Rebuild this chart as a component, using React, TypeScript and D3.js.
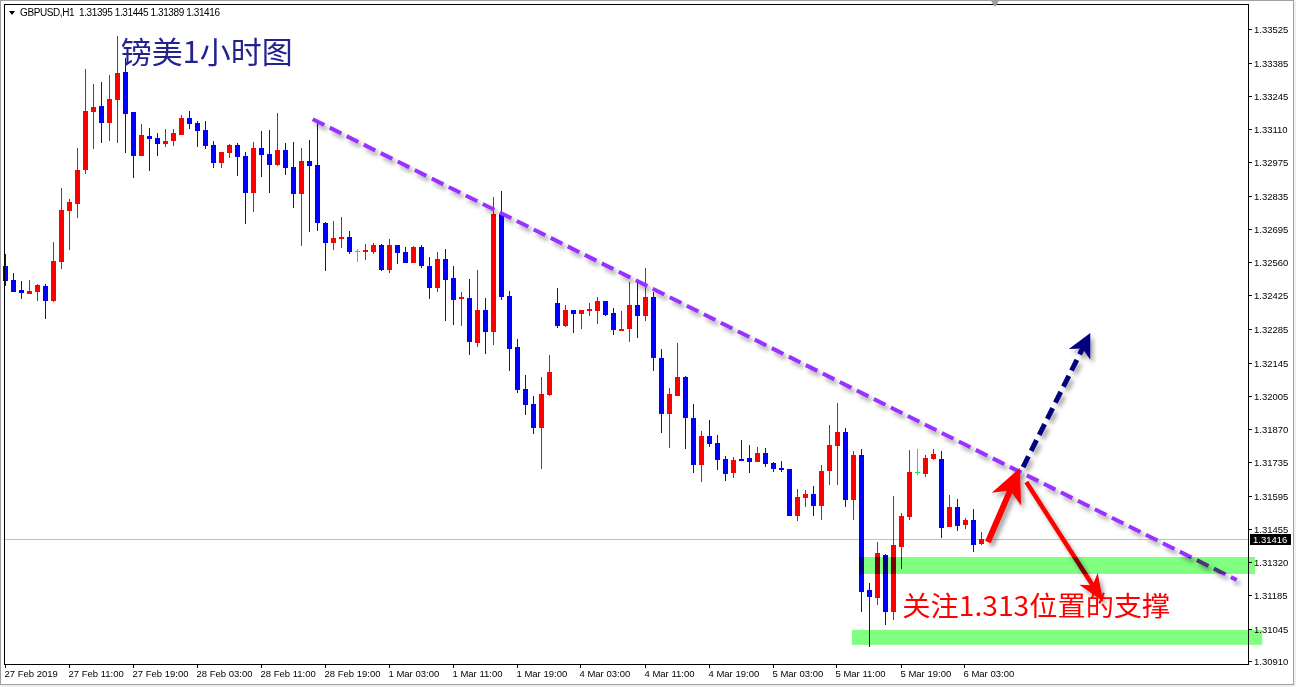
import * as d3 from 'd3';

// GBPUSD H1, 27 Feb 03:00 .. 6 Mar 05:00
const opens = [
  1.32544, 1.32487, 1.32445, 1.32429, 1.32437, 1.32462, 1.324, 1.32561, 1.32772, 1.32801,
  1.32941, 1.33181, 1.33206, 1.33136, 1.33231, 1.33346, 1.33181, 1.32999, 1.33082, 1.33074,
  1.33049, 1.33061, 1.33086, 1.33156, 1.33136, 1.33107, 1.33045, 1.3297, 1.33012, 1.33045,
  1.32999, 1.32846, 1.33032, 1.33007, 1.32962, 1.33024, 1.32954, 1.32842, 1.32978, 1.32962,
  1.32722, 1.32639, 1.32656, 1.32664, 1.32606, 1.32602, 1.32602, 1.32631, 1.32528, 1.32631,
  1.32602, 1.32557, 1.32623, 1.32544, 1.32453, 1.32573, 1.32495, 1.32408, 1.32412, 1.32226,
  1.32363, 1.32272, 1.32759, 1.3242, 1.3221, 1.32036, 1.31974, 1.31875, 1.32011, 1.32391,
  1.32296, 1.32363, 1.32346, 1.32359, 1.32358, 1.324, 1.3235, 1.32276, 1.32284, 1.32383,
  1.32338, 1.32416, 1.32164, 1.31933, 1.32007, 1.32086, 1.31916, 1.31722, 1.31842, 1.31813,
  1.31747, 1.31689, 1.31747, 1.31751, 1.31734, 1.31771, 1.3173, 1.31709, 1.31705, 1.31511,
  1.31585, 1.31602, 1.31552, 1.31697, 1.318, 1.31858, 1.31577, 1.31763, 1.31205, 1.31172,
  1.3135, 1.31114, 1.31383, 1.31507, 1.31693, 1.31685, 1.31747, 1.31747, 1.31465, 1.31548,
  1.31474, 1.31494, 1.31395,
];
const highs = [
  1.32594, 1.32515, 1.32482, 1.32487, 1.3247, 1.3247, 1.32644, 1.32867, 1.32821, 1.33032,
  1.33359, 1.33297, 1.33305, 1.33334, 1.33495, 1.33404, 1.33181, 1.33131, 1.33115, 1.33094,
  1.33111, 1.33111, 1.33169, 1.33185, 1.33144, 1.33144, 1.33061, 1.33016, 1.33049, 1.33053,
  1.33016, 1.33057, 1.33102, 1.33107, 1.33177, 1.33053, 1.33057, 1.33032, 1.33065, 1.33148,
  1.32726, 1.3273, 1.32747, 1.32689, 1.32615, 1.32635, 1.32639, 1.32635, 1.32656, 1.32631,
  1.32623, 1.32627, 1.32631, 1.32582, 1.32602, 1.32615, 1.32544, 1.32437, 1.32491, 1.32528,
  1.32412, 1.3283, 1.32854, 1.32441, 1.32243, 1.32094, 1.32007, 1.32086, 1.32176, 1.32453,
  1.32383, 1.32363, 1.32363, 1.32391, 1.32416, 1.324, 1.32371, 1.32358, 1.32478, 1.32478,
  1.32536, 1.32437, 1.32201, 1.3204, 1.32226, 1.3209, 1.31974, 1.31862, 1.31908, 1.31846,
  1.31759, 1.31755, 1.31825, 1.31804, 1.31796, 1.31792, 1.31734, 1.31738, 1.31705, 1.31623,
  1.31618, 1.31635, 1.31722, 1.31887, 1.31978, 1.31875, 1.3178, 1.31788, 1.31234, 1.31403,
  1.31354, 1.31594, 1.31523, 1.31784, 1.31788, 1.31763, 1.31788, 1.3178, 1.31598, 1.31581,
  1.31503, 1.3154, 1.31445,
];
const lows = [
  1.32462, 1.32437, 1.32408, 1.32429, 1.324, 1.32325, 1.32396, 1.32532, 1.32611, 1.32743,
  1.32925, 1.33028, 1.33053, 1.33061, 1.33053, 1.33012, 1.32908, 1.32999, 1.32937, 1.32999,
  1.33036, 1.3304, 1.33086, 1.33111, 1.33036, 1.33028, 1.3295, 1.3295, 1.32991, 1.32916,
  1.32718, 1.32768, 1.32912, 1.32846, 1.32958, 1.32921, 1.32784, 1.32627, 1.32685, 1.32689,
  1.32524, 1.32611, 1.32619, 1.32594, 1.32561, 1.32569, 1.32594, 1.32524, 1.32515, 1.32553,
  1.32557, 1.32557, 1.32536, 1.32408, 1.32437, 1.32317, 1.323, 1.32296, 1.32176, 1.3221,
  1.32181, 1.32218, 1.32404, 1.3211, 1.32019, 1.31928, 1.3185, 1.31705, 1.32007, 1.32288,
  1.32292, 1.32267, 1.32284, 1.32338, 1.32305, 1.32338, 1.32259, 1.32276, 1.3223, 1.32247,
  1.32317, 1.3211, 1.31854, 1.31792, 1.32007, 1.31788, 1.31689, 1.31651, 1.31796, 1.31701,
  1.31656, 1.31668, 1.31738, 1.31689, 1.31734, 1.31713, 1.31693, 1.31693, 1.31511, 1.3149,
  1.31548, 1.31511, 1.31494, 1.31639, 1.31639, 1.31548, 1.31494, 1.31114, 1.30969, 1.31143,
  1.3106, 1.31081, 1.31292, 1.31494, 1.3168, 1.31672, 1.31742, 1.3142, 1.31465, 1.31449,
  1.31457, 1.31362, 1.31389,
];
const closes = [
  1.32482, 1.32437, 1.32433, 1.32441, 1.32466, 1.324, 1.32565, 1.32776, 1.32809, 1.32941,
  1.33185, 1.33202, 1.33136, 1.33235, 1.33342, 1.33173, 1.32999, 1.33086, 1.33069, 1.33049,
  1.33061, 1.33094, 1.33156, 1.33131, 1.33102, 1.3304, 1.3297, 1.33016, 1.33045, 1.32995,
  1.32846, 1.33032, 1.33003, 1.32962, 1.33024, 1.3295, 1.32842, 1.32978, 1.32958, 1.32722,
  1.32639, 1.3266, 1.32664, 1.32602, 1.32606, 1.32611, 1.32631, 1.32528, 1.32631, 1.32598,
  1.32557, 1.32623, 1.32544, 1.32453, 1.32573, 1.32487, 1.32404, 1.32414, 1.3223, 1.32363,
  1.32272, 1.32759, 1.32416, 1.32201, 1.32032, 1.3197, 1.31875, 1.32015, 1.32106, 1.32296,
  1.32363, 1.32346, 1.32363, 1.32365, 1.324, 1.32342, 1.3228, 1.32284, 1.32383, 1.32338,
  1.32416, 1.32164, 1.31933, 1.32015, 1.32086, 1.31916, 1.31722, 1.31842, 1.31809, 1.31742,
  1.31685, 1.31742, 1.31738, 1.31734, 1.31771, 1.31726, 1.31705, 1.31701, 1.31511, 1.31589,
  1.31602, 1.31552, 1.31697, 1.31804, 1.31858, 1.31577, 1.31763, 1.31197, 1.31176, 1.31358,
  1.31114, 1.31391, 1.31511, 1.31693, 1.31693, 1.31751, 1.31767, 1.31461, 1.31548, 1.3147,
  1.31494, 1.31391, 1.31416,
];

const priceTicks = [
  '1.33525', '1.33385', '1.33245', '1.33110', '1.32975', '1.32835', '1.32695', '1.32560',
  '1.32425', '1.32285', '1.32145', '1.32005', '1.31870', '1.31735', '1.31595', '1.31455',
  '1.31320', '1.31185', '1.31045', '1.30910',
];
const timeTicks = [
  '27 Feb 2019', '27 Feb 11:00', '27 Feb 19:00', '28 Feb 03:00', '28 Feb 11:00',
  '28 Feb 19:00', '1 Mar 03:00', '1 Mar 11:00', '1 Mar 19:00', '4 Mar 03:00',
  '4 Mar 11:00', '4 Mar 19:00', '5 Mar 03:00', '5 Mar 11:00', '5 Mar 19:00', '6 Mar 03:00',
];
const header = 'GBPUSD,H1  1.31395 1.31445 1.31389 1.31416';
const lastPrice = 1.31416;

// annotations in (bar index, price)
const trendLine = [[38.4, 1.33151], [153.9, 1.31246]];
const breakArrow = [[127.2, 1.31713], [135.6, 1.32267]];
const upArrow = [[122.8, 1.31403], [126.8, 1.31709]];
const downArrow = [[127.6, 1.31651], [137.2, 1.31157]];
const zones = [
  [106.7, 156.2, 1.31341, 1.31271],
  [105.8, 157.1, 1.3104, 1.30978],
];
const title = { text: '镑美1小时图', at: [14.4, 1.33384] };
const note = { text: '关注1.313位置的支撑', at: [112.1, 1.31098] };

const W = 1296;
const H = 687;
const plot = { left: 4, top: 4, right: 1248, bottom: 664 };
const axisFont = "'Liberation Sans', Arial, sans-serif";

function arrowHead(x1: number, y1: number, x2: number, y2: number, len: number, half: number) {
  const dx = x2 - x1;
  const dy = y2 - y1;
  const d = Math.hypot(dx, dy);
  const ux = dx / d;
  const uy = dy / d;
  const bx = x2 - ux * len;
  const by = y2 - uy * len;
  const nx = x2 - ux * len * 0.72;
  const ny = y2 - uy * len * 0.72;
  return `M${x2},${y2} L${bx - uy * half},${by + ux * half} L${nx},${ny} L${bx + uy * half},${by - ux * half} Z`;
}

export default function App() {
  const x = d3.scaleLinear().domain([0, 122]).range([5.5, 981.5]);
  const y = d3.scaleLinear().domain([1.33525, 1.3091]).range([28.7, 661.3]);

  const candles = opens.map((o, i) => {
    const c = closes[i];
    const color = c > o ? '#ff0000' : c < o ? '#0000ff' : '#00ff00';
    const cx = x(i);
    const top = Math.round(y(Math.max(o, c)));
    const bot = Math.round(y(Math.min(o, c)));
    return {
      color,
      wx: Math.round(cx - 0.5),
      wy: Math.round(y(highs[i])),
      wh: Math.max(1, Math.round(y(lows[i])) - Math.round(y(highs[i]))),
      bx: Math.round(cx - 2.5),
      by: top,
      bh: Math.max(1, bot - top),
    };
  });

  const pt = (p: number[]) => [x(p[0]), y(p[1])];
  const [t1, t2] = [pt(trendLine[0]), pt(trendLine[1])];
  const [b1, b2] = [pt(breakArrow[0]), pt(breakArrow[1])];
  const [u1, u2] = [pt(upArrow[0]), pt(upArrow[1])];
  const [d1, d2] = [pt(downArrow[0]), pt(downArrow[1])];

  // shaft stops inside the head
  const shaftEnd = (a: number[], b: number[], back: number) => {
    const dx = b[0] - a[0];
    const dy = b[1] - a[1];
    const d = Math.hypot(dx, dy);
    return [b[0] - (dx / d) * back, b[1] - (dy / d) * back];
  };
  const bEnd = shaftEnd(b1, b2, 14);
  const uEnd = shaftEnd(u1, u2, 20);
  const dEnd = shaftEnd(d1, d2, 16);

  const lastY = Math.round(y(lastPrice)) + 0.5;
  const titlePos = pt(title.at);
  const notePos = pt(note.at);

  return (
    <svg
      width={W}
      height={H}
      style={{ position: 'absolute', left: 0, top: 0, display: 'block' }}
    >
      <defs>
        <filter id="shadow" x="-20%" y="-20%" width="140%" height="140%">
          <feDropShadow dx={3} dy={4} stdDeviation={2} floodColor="#000" floodOpacity={0.35} />
        </filter>
      </defs>
      <rect x={0} y={0} width={W} height={H} fill="#f0f0f0" />
      <rect x={0.5} y={0.5} width={1293} height={684} fill="#fff" stroke="#a0a0a0" />

      {/* current price line */}
      <line x1={plot.left} x2={plot.right} y1={lastY} y2={lastY} stroke="#c0c0c0" />

      {candles.map((c, i) => (
        <g key={i} fill={c.color} shapeRendering="crispEdges">
          <rect x={c.wx} y={c.wy} width={1} height={c.wh} />
          <rect x={c.bx} y={c.by} width={5} height={c.bh} />
        </g>
      ))}

      {/* trend line */}
      <line
        x1={t1[0]} y1={t1[1]} x2={t2[0]} y2={t2[1]}
        stroke="#9933ff" strokeWidth={4} strokeDasharray="13 6"
        filter="url(#shadow)"
      />

      {/* dashed breakout arrow */}
      <g filter="url(#shadow)">
        <line
          x1={b1[0]} y1={b1[1]} x2={bEnd[0]} y2={bEnd[1]}
          stroke="#000080" strokeWidth={5} strokeDasharray="12 6"
        />
        <path d={arrowHead(b1[0], b1[1], b2[0], b2[1], 24, 12)} fill="#000080" />
      </g>

      {/* red arrows */}
      <g filter="url(#shadow)">
        <line x1={u1[0]} y1={u1[1]} x2={uEnd[0]} y2={uEnd[1]} stroke="#ff0000" strokeWidth={6} />
        <path d={arrowHead(u1[0], u1[1], u2[0], u2[1], 34, 16)} fill="#ff0000" />
        <line x1={d1[0]} y1={d1[1]} x2={dEnd[0]} y2={dEnd[1]} stroke="#ff0000" strokeWidth={4.5} />
        <path d={arrowHead(d1[0], d1[1], d2[0], d2[1], 27, 11)} fill="#ff0000" />
      </g>

      {/* support zones */}
      {zones.map((z, i) => (
        <rect
          key={i}
          x={x(z[0])}
          y={y(z[2])}
          width={x(z[1]) - x(z[0])}
          height={y(z[3]) - y(z[2])}
          fill="#80ff80"
          style={{ mixBlendMode: 'multiply' }}
        />
      ))}

      {/* frame */}
      <rect
        x={plot.left + 0.5}
        y={plot.top + 0.5}
        width={plot.right - plot.left}
        height={plot.bottom - plot.top}
        fill="none"
        stroke="#000"
      />
      <path d="M991,1 L999,1 L995,7 Z" fill="#a0a0a0" />

      {/* price axis */}
      <g fontFamily={axisFont} fontSize={9.5} fill="#000">
        {priceTicks.map((t) => {
          const ty = Math.round(y(+t)) + 0.5;
          return (
            <g key={t}>
              <line x1={plot.right} x2={plot.right + 4} y1={ty} y2={ty} stroke="#000" />
              <text x={plot.right + 6} y={ty} dy="0.35em">{t}</text>
            </g>
          );
        })}
      </g>
      <rect x={plot.right + 2} y={lastY - 5.5} width={41} height={11} fill="#000" />
      <text
        x={plot.right + 5} y={lastY} dy="0.35em"
        fontFamily={axisFont} fontSize={9.5} fill="#fff"
      >
        {lastPrice.toFixed(5)}
      </text>

      {/* time axis */}
      <g fontFamily={axisFont} fontSize={9.5} fill="#000">
        {timeTicks.map((t, i) => {
          const tx = Math.round(x(i * 8)) - 0.5;
          return (
            <g key={t}>
              <line x1={tx} x2={tx} y1={plot.bottom} y2={plot.bottom + 4} stroke="#000" />
              <text x={tx - 1} y={677}>{t}</text>
            </g>
          );
        })}
      </g>

      {/* header */}
      <path d="M9,11 L15,11 L12,15 Z" fill="#000" />
      <text
        x={20} y={16} fontFamily={axisFont} fontSize={10} fill="#000"
        textLength={200} lengthAdjust="spacing" style={{ whiteSpace: 'pre' }}
      >
        {header}
      </text>

      <text
        x={titlePos[0]} y={titlePos[1]}
        fontFamily="'Noto Sans CJK SC', sans-serif" fontSize={30} fill="#23238e"
        textLength={172} lengthAdjust="spacingAndGlyphs"
      >
        {title.text}
      </text>
      <text
        x={notePos[0]} y={notePos[1]}
        fontFamily="'Noto Sans CJK SC', sans-serif" fontSize={27} fill="#ff0000"
        textLength={268} lengthAdjust="spacingAndGlyphs"
      >
        {note.text}
      </text>
    </svg>
  );
}
